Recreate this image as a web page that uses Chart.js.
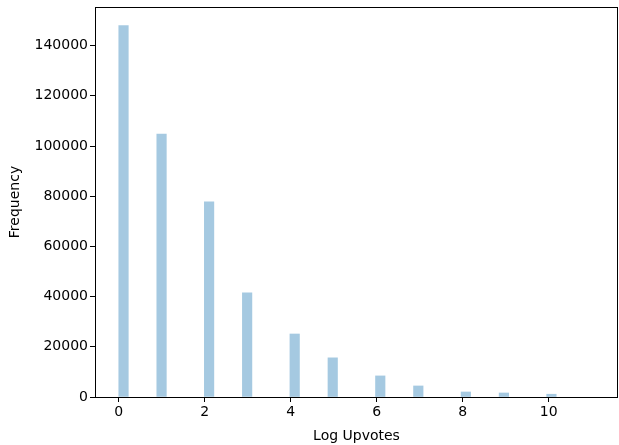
<!DOCTYPE html>
<html>
<head>
<meta charset="utf-8">
<script src="https://cdn.jsdelivr.net/npm/chart.js@4/dist/chart.umd.min.js"></script>
<style>
	html, body { margin: 0; padding: 0; background: #fff; }
	#wrap { width: 619px; height: 445px; }
</style>
</head>
<body>
<div id="wrap"><canvas id="myChart" width="619" height="445"></canvas></div>
<script>
// histogram of log upvotes (50 bins over 0..11.06)
const logUpvotes = [0, 1, 2, 3, 4, 5, 6, 7, 8, 9, 10]
const frequency = [148000, 104800, 77800, 41500, 25100, 15600, 8400, 4400, 2000, 1600, 1100]

const xTicks = [0, 2, 4, 6, 8, 10]
const yTicks = [0, 20000, 40000, 60000, 80000, 100000, 120000, 140000]

const dataMax = 11.06
const binCount = 50
const binWidth = dataMax / binCount

// put each value in the histogram bin it falls in
function binCenter(v) {
	return Math.floor(v / binWidth + 1e-9) * binWidth + binWidth / 2
}

const points = logUpvotes.map((v, i) => ({ x: binCenter(v), y: frequency[i] }))

const font = { family: "DejaVu Sans", size: 14 }

// matplotlib style box around the plot
const boxPlugin = {
	id: "box",
	afterDraw(chart) {
		const { ctx, chartArea: a } = chart
		ctx.save()
		ctx.strokeStyle = "#000"
		ctx.lineWidth = 1
		ctx.strokeRect(Math.round(a.left) + 0.5, Math.round(a.top) + 0.5,
			Math.round(a.right - a.left) - 1, Math.round(a.bottom - a.top))
		ctx.restore()
	}
}

new Chart("myChart", {
	type: "bar",
	data: {
		datasets: [{
			data: points,
			backgroundColor: "rgba(31, 119, 180, 0.4)",
			borderWidth: 0,
			barThickness: binWidth * 43
		}]
	},
	options: {
		responsive: false,
		animation: false,
		layout: { padding: { top: 7, right: 1, left: 0, bottom: 0 } },
		plugins: {
			legend: { display: false },
			tooltip: { enabled: false }
		},
		scales: {
			x: {
				type: "linear",
				offset: false,
				min: -0.05 * dataMax,
				max: dataMax * 1.05,
				afterBuildTicks: s => { s.ticks = xTicks.map(v => ({ value: v })) },
				afterFit: s => {
					s.height = 48
					s.paddingLeft = 0
					s.paddingRight = 0
				},
				grid: { offset: false, drawOnChartArea: false, drawTicks: true, tickLength: 5, color: "#000" },
				border: { display: false },
				ticks: { color: "#000", font: font, padding: 2, maxRotation: 0 },
				title: { display: true, text: "Log Upvotes", color: "#000", font: font, padding: { top: 1, bottom: 0 } }
			},
			y: {
				min: 0,
				max: 148000 * 1.05,
				afterBuildTicks: s => { s.ticks = yTicks.map(v => ({ value: v })) },
				afterFit: s => {
					s.width = 95
					s.paddingTop = 0
					s.paddingBottom = 0
				},
				grid: { drawOnChartArea: false, drawTicks: true, tickLength: 5, color: "#000" },
				border: { display: false },
				ticks: { color: "#000", font: font, padding: 2, callback: v => String(v) },
				title: { display: true, text: "Frequency", color: "#000", font: font, padding: { top: 7, bottom: 0 } }
			}
		}
	},
	plugins: [boxPlugin]
})
</script>
</body>
</html>
